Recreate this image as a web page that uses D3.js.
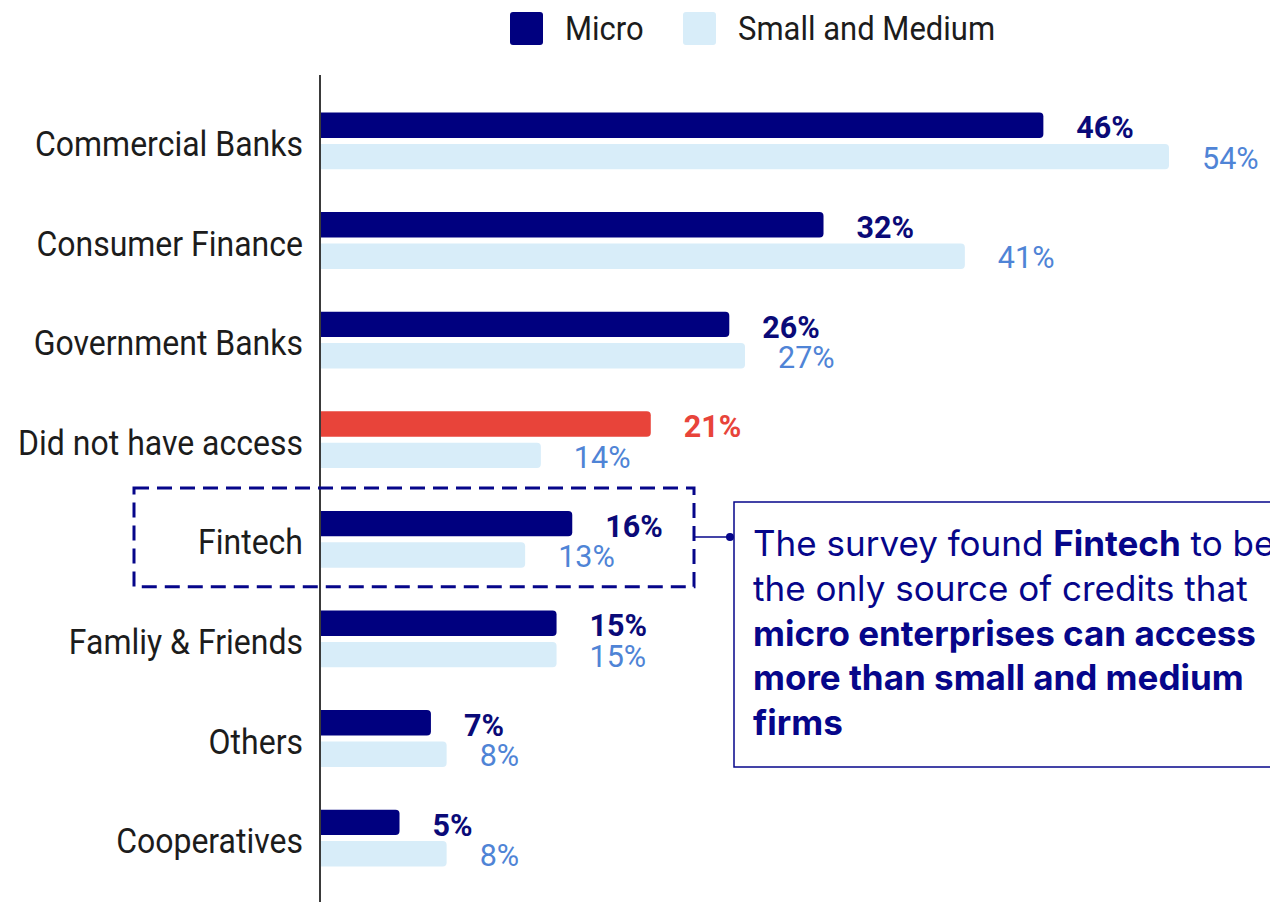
<!DOCTYPE html>
<html>
<head>
<meta charset="utf-8">
<script src="https://cdn.jsdelivr.net/npm/d3@7"></script>
<style>
  html, body { margin: 0; padding: 0; background: #ffffff; }
  svg { display: block; }
</style>
</head>
<body>
<svg id="chart" width="1270" height="902"></svg>
<script>
// Sources of credit accessed, by enterprise size (%)
const categories = [
  "Commercial Banks",
  "Consumer Finance",
  "Government Banks",
  "Did not have access",
  "Fintech",
  "Famliy & Friends",
  "Others",
  "Cooperatives"
];
const microValues = [46, 32, 26, 21, 16, 15, 7, 5];
const smallMediumValues = [54, 41, 27, 14, 13, 15, 8, 8];
const seriesNames = ["Micro", "Small and Medium"];
const highlightCategory = "Did not have access";
const calloutCategory = "Fintech";

const colors = {
  micro: "#00007f",
  small: "#d8edf9",
  highlight: "#e8443a",
  microLabel: "#0a0a78",
  smallLabel: "#4f84d6",
  axis: "#3a3a3a",
  text: "#1c1c1c",
  note: "#06068a"
};

const svg = d3.select("#chart");

function placedText(sel, x, y, sy) {
  return sel.attr("transform", `translate(${x},${y}) scale(1,${sy})`)
            .attr("x", 0).attr("y", 0);
}

// Scales
const x = d3.scaleLinear().domain([0, 54]).range([321, 1169]);
const y = d3.scaleBand()
  .domain(categories)
  .range([91.1, 887.9])
  .paddingInner(0.43)
  .paddingOuter(0.215);
const ySub = d3.scaleBand()
  .domain(["micro", "small"])
  .range([0, y.bandwidth()])
  .paddingInner(0.19);

const rows = categories.map((c, i) => ({
  category: c,
  micro: microValues[i],
  small: smallMediumValues[i]
}));

// Bar with rounded right end only
function barPath(x0, x1, top, h, r) {
  r = Math.min(r, (x1 - x0) / 2, h / 2);
  return `M${x0},${top}H${x1 - r}Q${x1},${top} ${x1},${top + r}` +
         `V${top + h - r}Q${x1},${top + h} ${x1 - r},${top + h}H${x0}Z`;
}

const groups = svg.append("g").selectAll("g.row")
  .data(rows).join("g")
  .attr("class", "row")
  .attr("transform", d => `translate(0,${y(d.category)})`);

groups.append("path")
  .attr("d", d => barPath(x(0), x(d.small), ySub("small"), ySub.bandwidth(), 4))
  .attr("fill", colors.small);

groups.append("path")
  .attr("d", d => barPath(x(0), x(d.micro), ySub("micro"), ySub.bandwidth(), 4))
  .attr("fill", d => d.category === highlightCategory ? colors.highlight : colors.micro);

// Value labels
groups.append("text")
  .each(function (d) {
    placedText(d3.select(this), x(d.micro) + 33, ySub("micro") + ySub.bandwidth() + 0.5, 1);
  })
  .attr("font-family", "Roboto, sans-serif")
  .attr("font-weight", 700)
  .attr("font-size", 30.5)
  .attr("fill", d => d.category === highlightCategory ? colors.highlight : colors.microLabel)
  .text(d => d.micro + "%");

groups.append("text")
  .each(function (d) {
    placedText(d3.select(this), x(d.small) + 33, ySub("small") + ySub.bandwidth() - 0.5, 1);
  })
  .attr("font-family", "Roboto, sans-serif")
  .attr("font-size", 30.5)
  .attr("fill", colors.smallLabel)
  .text(d => d.small + "%");

// Category axis
const axis = d3.axisLeft(y).tickSize(0).tickPadding(0);
const axisG = svg.append("g")
  .attr("transform", `translate(${x(0) - 1},0)`)
  .call(axis);
axisG.select(".domain").remove();
axisG.selectAll(".tick text")
  .attr("font-family", "Roboto, sans-serif")
  .attr("font-size", 32)
  .attr("fill", colors.text)
  .attr("text-anchor", "end")
  .attr("dy", null)
  .each(function () {
    placedText(d3.select(this), -17, 15, 1.1);
  });

svg.append("line")
  .attr("x1", x(0) - 1).attr("x2", x(0) - 1)
  .attr("y1", 75).attr("y2", 902)
  .attr("stroke", colors.axis)
  .attr("stroke-width", 2);

// Legend
const legendItems = [
  { name: seriesNames[0], color: colors.micro, x: 510 },
  { name: seriesNames[1], color: colors.small, x: 683 }
];
const legend = svg.append("g").selectAll("g")
  .data(legendItems).join("g")
  .attr("transform", d => `translate(${d.x},12)`);
legend.append("rect")
  .attr("width", 33).attr("height", 33).attr("rx", 3)
  .attr("fill", d => d.color);
legend.append("text")
  .each(function () { placedText(d3.select(this), 55, 28, 1.1); })
  .attr("font-family", "Roboto, sans-serif")
  .attr("font-size", 31)
  .attr("fill", colors.text)
  .text(d => d.name);

// Highlight box around the Fintech row
const fy = y(calloutCategory);
svg.append("rect")
  .attr("x", 134).attr("y", fy - 23)
  .attr("width", 560).attr("height", y.bandwidth() + 42)
  .attr("fill", "none")
  .attr("stroke", colors.note)
  .attr("stroke-width", 3)
  .attr("stroke-dasharray", "15,8");

// Connector and note
const cy = fy + 26;
svg.append("line")
  .attr("x1", 694).attr("x2", 730)
  .attr("y1", cy).attr("y2", cy)
  .attr("stroke", colors.note).attr("stroke-width", 1.5);
svg.append("circle")
  .attr("cx", 730).attr("cy", cy).attr("r", 4)
  .attr("fill", colors.note);
svg.append("rect")
  .attr("x", 734).attr("y", 502)
  .attr("width", 600).attr("height", 265)
  .attr("fill", "#ffffff")
  .attr("stroke", colors.note)
  .attr("stroke-width", 1.5);

const noteLines = [
  [["The survey found ", 400], ["Fintech", 700], [" to be", 400]],
  [["the only source of credits that", 400]],
  [["micro enterprises can access", 700]],
  [["more than small and medium", 700]],
  [["firms", 700]]
];
const note = svg.append("text")
  .attr("font-family", "Inter, 'Open Sans', sans-serif")
  .attr("font-size", 35)
  .attr("fill", colors.note);
noteLines.forEach((parts, i) => {
  parts.forEach((p, j) => {
    const t = note.append("tspan").attr("font-weight", p[1]).text(p[0]);
    if (j === 0) t.attr("x", 753).attr("y", 556 + i * 44.8);
  });
});
</script>
</body>
</html>
